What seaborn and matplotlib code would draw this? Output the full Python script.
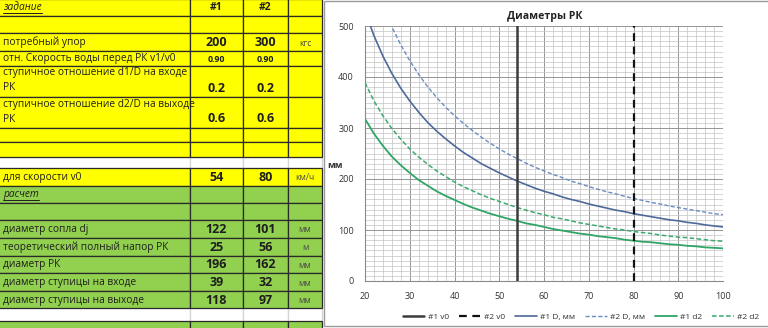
import matplotlib
matplotlib.use("Agg")
import matplotlib.pyplot as plt
from matplotlib.patches import Rectangle
from matplotlib.ticker import MultipleLocator
import seaborn as sns

sns.set_style("white")
plt.rcParams["font.family"] = ["Open Sans", "DejaVu Sans"]

# ---------------- spreadsheet block ----------------
row_labels = [
    "задание", "", "потребный упор", "отн. Скорость воды перед РК v1/v0",
    "ступичное отношение d1/D на входе\nРК",
    "ступичное отношение d2/D на выходе\nРК",
    "", "", "", "для скорости v0", "расчет", "",
    "диаметр сопла dj", "теоретический полный напор РК", "диаметр РК",
    "диаметр ступицы на входе", "диаметр ступицы на выходе", "", "",
]
col1_values = ["#1", "", "200", "0.90", "0.2", "0.6", "", "", "", "54", "", "",
               "122", "25", "196", "39", "118", "", ""]
col2_values = ["#2", "", "300", "0.90", "0.2", "0.6", "", "", "", "80", "", "",
               "101", "56", "162", "32", "97", "", ""]
unit_labels = ["", "", "кгс", "", "", "", "", "", "", "км/ч", "", "",
               "мм", "м", "мм", "мм", "мм", "", ""]
section_rows = [0, 10]          # italic underlined section headers
row_fill = ["y"] * 8 + ["w"] + ["y"] + ["g"] * 7 + ["w"] + ["g"]

# ---------------- chart series (speed, km/h -> diameter, mm) ----------------
speed = [20, 22, 24, 26, 28, 30, 32, 34, 36, 38, 40, 42, 44, 46, 48, 50, 52, 54,
         56, 58, 60, 62, 64, 66, 68, 70, 72, 74, 76, 78, 80, 82, 84, 86, 88, 90,
         92, 94, 96, 98, 100]
d_rk_1 = [529, 481, 441, 407, 378, 353, 331, 311, 294, 279, 265, 252, 241, 230,
          221, 212, 204, 196, 189, 182, 176, 171, 165, 160, 156, 151, 147, 143,
          139, 136, 132, 129, 126, 123, 120, 118, 115, 113, 110, 108, 106]
d_rk_2 = [648, 589, 540, 498, 463, 432, 405, 381, 360, 341, 324, 309, 295, 282,
          270, 259, 249, 240, 231, 223, 216, 209, 203, 196, 191, 185, 180, 175,
          171, 166, 162, 158, 154, 151, 147, 144, 141, 138, 135, 132, 130]
d2_hub_1 = [318, 289, 265, 244, 227, 212, 198, 187, 176, 167, 159, 151, 144, 138,
            132, 127, 122, 118, 113, 110, 106, 102, 99, 96, 93, 91, 88, 86, 84,
            81, 79, 77, 76, 74, 72, 71, 69, 68, 66, 65, 64]
d2_hub_2 = [389, 353, 324, 299, 278, 259, 243, 229, 216, 205, 194, 185, 177, 169,
            162, 156, 150, 144, 139, 134, 130, 125, 122, 118, 114, 111, 108, 105,
            102, 100, 97, 95, 93, 90, 88, 86, 85, 83, 81, 79, 78]
v0_1 = 54
v0_2 = 80

W, H = 768, 328
fig = plt.figure(figsize=(W / 100, H / 100), dpi=100)
fig.patch.set_facecolor("white")

# background canvas in pixel units (y downwards)
bg = fig.add_axes([0, 0, 1, 1])
bg.set_xlim(0, W)
bg.set_ylim(H, 0)
bg.axis("off")

row_edges = [-1, 16, 33, 51, 66, 97, 128, 142, 157, 168, 186, 203, 220, 238,
             256, 273, 291, 308, 321, 332]
col_edges = [-2, 190, 243, 288, 322]
fills = {"y": "#ffff00", "g": "#92d050", "w": "#ffffff"}
ink = "#1e1e1e"
label_size = 7.3

for i, lab in enumerate(row_labels):
    y0, y1 = row_edges[i], row_edges[i + 1]
    kind = row_fill[i]
    edge = "#d4d4d4" if kind == "w" else "#2a2a2a"
    for c in range(4):
        x0, x1 = col_edges[c], col_edges[c + 1]
        bg.add_patch(Rectangle((x0, y0), x1 - x0, y1 - y0, facecolor=fills[kind],
                               edgecolor=edge, lw=0.9, zorder=1 if kind == "w" else 2))
    ym = (y0 + y1) / 2 + 0.5
    two_line = "\n" in lab
    val_y = y1 - 9 if two_line else ym
    if two_line:
        first, second = lab.split("\n")
        bg.text(3, y1 - 24, first, ha="left", va="center", fontsize=label_size,
                color=ink, zorder=5)
        bg.text(3, y1 - 9, second, ha="left", va="center", fontsize=label_size,
                color=ink, zorder=5)
    elif lab:
        italic = i in section_rows
        t = bg.text(3, ym, lab, ha="left", va="center", fontsize=label_size, color=ink,
                    style="italic" if italic else "normal", zorder=5)
        if italic:
            fig.canvas.draw()
            bb = t.get_window_extent(renderer=fig.canvas.get_renderer())
            (xa, ya), (xb, yb) = bg.transData.inverted().transform(
                [[bb.x0, bb.y0], [bb.x1, bb.y1]])
            bg.plot([xa, xb], [ya - 0.5, ya - 0.5], color=ink, lw=0.7, zorder=5)
    for c, vals in ((1, col1_values), (2, col2_values)):
        v = vals[i]
        if not v:
            continue
        xc = (col_edges[c] + col_edges[c + 1]) / 2
        size = 6.3 if v == "0.90" else (7.5 if v.startswith("#") else 9)
        bg.text(xc, val_y, v, ha="center", va="center", fontsize=size,
                fontweight="bold", color=ink, zorder=5)
    if unit_labels[i]:
        xc = (col_edges[3] + col_edges[4]) / 2
        bg.text(xc, ym + 0.5, unit_labels[i], ha="center", va="center",
                fontsize=6.2, color="#4a4a4a", zorder=5)

# chart frame
bg.add_patch(Rectangle((323.5, 0.5), 470, 325.5, facecolor="white",
                       edgecolor="#9a9a9a", lw=1.0, zorder=6))

# ---------------- chart ----------------
ax = fig.add_axes([365 / W, 1 - 281 / H, 358 / W, 255 / H])
ax.set_zorder(10)
ax.set_facecolor("white")

ax.axvline(v0_1, color="#3c3c3c", lw=1.8, label="#1 v0", zorder=4)
ax.axvline(v0_2, color="#111111", lw=1.6, linestyle=(0, (3.5, 2.5)),
           label="#2 v0", zorder=4)

blue_1, blue_2 = "#4d6a99", "#6a8cc4"
green_1, green_2 = "#2fa566", "#3aaa6e"
sns.lineplot(x=speed, y=d_rk_1, ax=ax, color=blue_1, lw=1.2, label="#1 D, мм")
sns.lineplot(x=speed, y=d_rk_2, ax=ax, color=blue_2, lw=1.0,
             linestyle=(0, (3, 1.6)), label="#2 D, мм")
sns.lineplot(x=speed, y=d2_hub_1, ax=ax, color=green_1, lw=1.3, label="#1 d2")
sns.lineplot(x=speed, y=d2_hub_2, ax=ax, color=green_2, lw=1.1,
             linestyle=(0, (3, 1.6)), label="#2 d2")
if ax.get_legend() is not None:
    ax.get_legend().remove()

ax.set_xlim(20, 100)
ax.set_ylim(0, 500)
ax.xaxis.set_major_locator(MultipleLocator(10))
ax.xaxis.set_minor_locator(MultipleLocator(2))
ax.yaxis.set_major_locator(MultipleLocator(100))
ax.yaxis.set_minor_locator(MultipleLocator(10))
ax.grid(which="major", color="#959595", lw=0.7)
ax.grid(which="minor", color="#c4c4c4", lw=0.5)
ax.set_axisbelow(True)
for s in ("top", "right"):
    ax.spines[s].set_visible(False)
for s in ("left", "bottom"):
    ax.spines[s].set_color("#8a8a8a")
    ax.spines[s].set_linewidth(0.8)
ax.tick_params(which="major", direction="out", length=3, width=0.7,
               color="#8a8a8a", labelsize=6.5, labelcolor="#333333", pad=5)
ax.tick_params(which="minor", length=0)
ax.tick_params(axis="x", pad=5)
ax.set_xlabel("")
ax.set_ylabel("")

fig.text(545 / W, 1 - 16 / H, "Диаметры РК", ha="center", va="center",
         fontsize=7.6, fontweight="bold", color="#222222", zorder=12)
fig.text(335 / W, 1 - 166 / H, "мм", ha="center", va="center",
         fontsize=6.5, fontweight="bold", color="#333333", zorder=12)

handles, labels = ax.get_legend_handles_labels()
leg = fig.legend(handles, labels, loc="center", ncol=6,
                 bbox_to_anchor=(581 / W, 1 - 317 / H), frameon=False,
                 fontsize=6, handlelength=2.6, handletextpad=0.4,
                 columnspacing=1.2, labelcolor="#333333")
leg.set_zorder(12)

fig.savefig("out.png", dpi=100)
